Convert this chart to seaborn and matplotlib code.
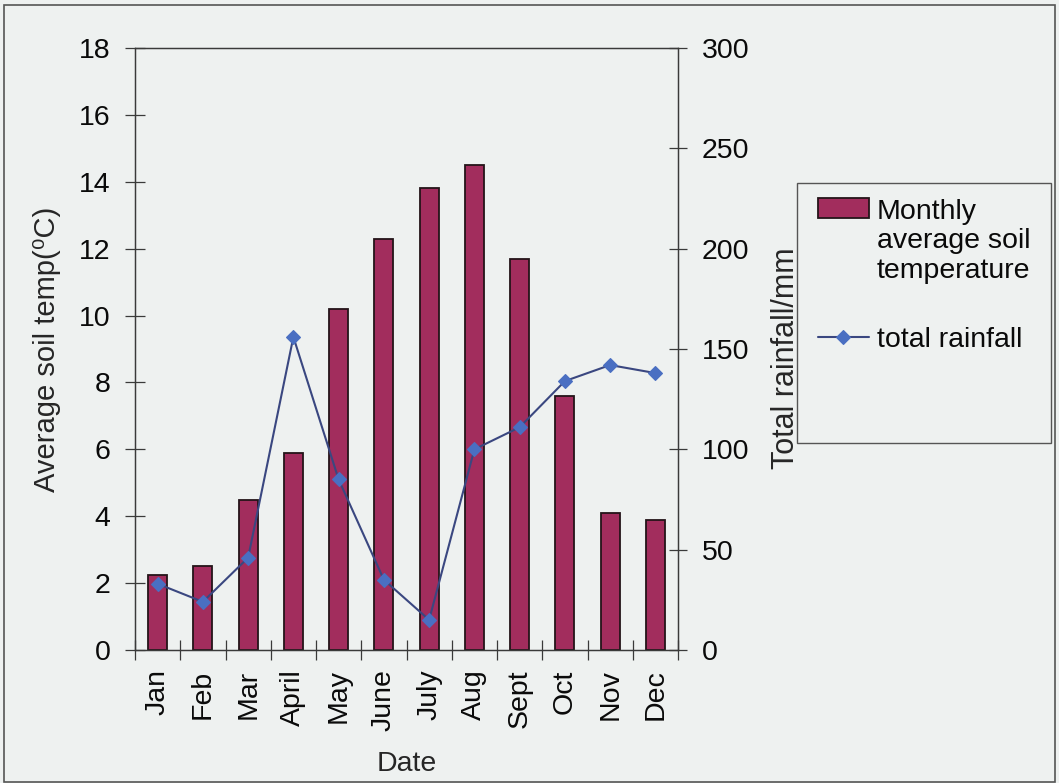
import matplotlib
matplotlib.use("Agg")
import matplotlib.pyplot as plt
from matplotlib.patches import Rectangle
from matplotlib.ticker import FixedLocator
import pandas as pd
import seaborn as sns

# Monthly soil temperature (left axis) and rainfall totals (right axis)
months = ["Jan", "Feb", "Mar", "April", "May", "June",
          "July", "Aug", "Sept", "Oct", "Nov", "Dec"]
soil_temp = [2.25, 2.5, 4.5, 5.9, 10.2, 12.3, 13.8, 14.5, 11.7, 7.6, 4.1, 3.9]
rainfall = [33, 24, 46, 156, 85, 35, 15, 100, 111, 134, 142, 138]

temp_ticks = list(range(0, 19, 2))
rain_ticks = list(range(0, 301, 50))

temp_label = "Monthly\naverage soil\ntemperature"
rain_label = "total rainfall"

PAGE = "#eef1f0"
BAR = "#a22d5d"
BAR_EDGE = "#241419"
LINE = "#3a4780"
MARKER = "#4a6fc2"
AXIS = "#3a3a3a"
FS = 20.5

sns.set_theme(style="white")
plt.rcParams["font.family"] = ["Liberation Sans", "DejaVu Sans"]
plt.rcParams["text.color"] = "#0a0a0a"
plt.rcParams["xtick.color"] = AXIS
plt.rcParams["ytick.color"] = AXIS
plt.rcParams["xtick.labelcolor"] = "#0a0a0a"
plt.rcParams["ytick.labelcolor"] = "#0a0a0a"

df = pd.DataFrame({"month": months, "temp": soil_temp, "rain": rainfall})

W, H = 1059, 783
fig = plt.figure(figsize=(W / 100, H / 100), dpi=100, facecolor=PAGE)
left, right, top, bottom = 135, 678, 48, 650
ax = fig.add_axes([left / W, 1 - bottom / H, (right - left) / W, (bottom - top) / H])
ax.set_facecolor(PAGE)

sns.barplot(data=df, x="month", y="temp", color=BAR, saturation=1, width=0.42,
            edgecolor=BAR_EDGE, linewidth=1.3, ax=ax, zorder=2)

ax2 = ax.twinx()
sns.pointplot(data=df, x="month", y="rain", color=LINE, markers="D",
              linestyles="-", errorbar=None, ax=ax2, linewidth=1.5,
              markersize=7, markerfacecolor=MARKER, markeredgecolor=MARKER,
              markeredgewidth=0.8)

ax.set_xlim(-0.5, len(months) - 0.5)
ax.set_ylim(0, 18)
ax2.set_ylim(0, 300)

ax.yaxis.set_major_locator(FixedLocator(temp_ticks))
ax2.yaxis.set_major_locator(FixedLocator(rain_ticks))
ax.set_xticks(range(len(months)))
ax.set_xticklabels(months, rotation=90)
ax.xaxis.set_minor_locator(FixedLocator([i - 0.5 for i in range(len(months) + 1)]))

for a in (ax, ax2):
    for s in a.spines.values():
        s.set_color(AXIS)
        s.set_linewidth(0.9)
        s.set_visible(True)
    a.grid(False)

ax.tick_params(axis="y", which="major", direction="inout", length=14, width=0.9,
               labelsize=FS, pad=10.5, left=True)
ax2.tick_params(axis="y", which="major", direction="inout", length=13, width=0.9,
                labelsize=FS, pad=10.5, right=True)
ax.tick_params(axis="x", which="major", length=0, labelsize=FS, pad=14)
ax.tick_params(axis="x", which="minor", direction="inout", length=14, width=0.9,
               bottom=True)
ax2.tick_params(axis="x", which="both", bottom=False, top=False,
                labelbottom=False)

ax.set_xlabel("Date", fontsize=FS)
ax.xaxis.set_label_coords(0.5, -0.167)
ax.set_ylabel("Average soil temp(\u2070C)", fontsize=FS + 0.5)
ax.yaxis.set_label_coords(-0.136, 0.5)
ax2.set_ylabel("Total rainfall/mm", fontsize=FS + 1.5)
ax2.yaxis.set_label_coords(1.172, 0.485)

# Legend box drawn over the right-hand axis title
box = Rectangle((797 / W, 1 - 443 / H), (1051 - 797) / W, (443 - 183) / H,
                transform=fig.transFigure, facecolor=PAGE, edgecolor="#555555",
                linewidth=1.0, zorder=5)
fig.add_artist(box)

leg = fig.legend([ax.patches[0], ax2.lines[0]], [temp_label, rain_label],
                 loc="upper left", bbox_to_anchor=(818 / W, 1 - 199 / H),
                 bbox_transform=fig.transFigure, frameon=False, fontsize=20.5,
                 handlelength=1.78, handleheight=0.7, handletextpad=0.28,
                 labelspacing=1.5, borderpad=0, borderaxespad=0)
leg.set_zorder(6)
for t in leg.get_texts():
    t.set_linespacing(1.17)
# keep the bar swatch level with the first line of its label
patch_handle = leg.legend_handles[0]
patch_handle.set_y(patch_handle.get_y() + 24)

# outer chart border
fig.add_artist(Rectangle((4 / W, 1 / H), (1055 - 4) / W, (782 - 5) / H,
                         transform=fig.transFigure, fill=False,
                         edgecolor="#555555", linewidth=1.2, zorder=7))

fig.savefig("out.png", dpi=100, facecolor=PAGE)
